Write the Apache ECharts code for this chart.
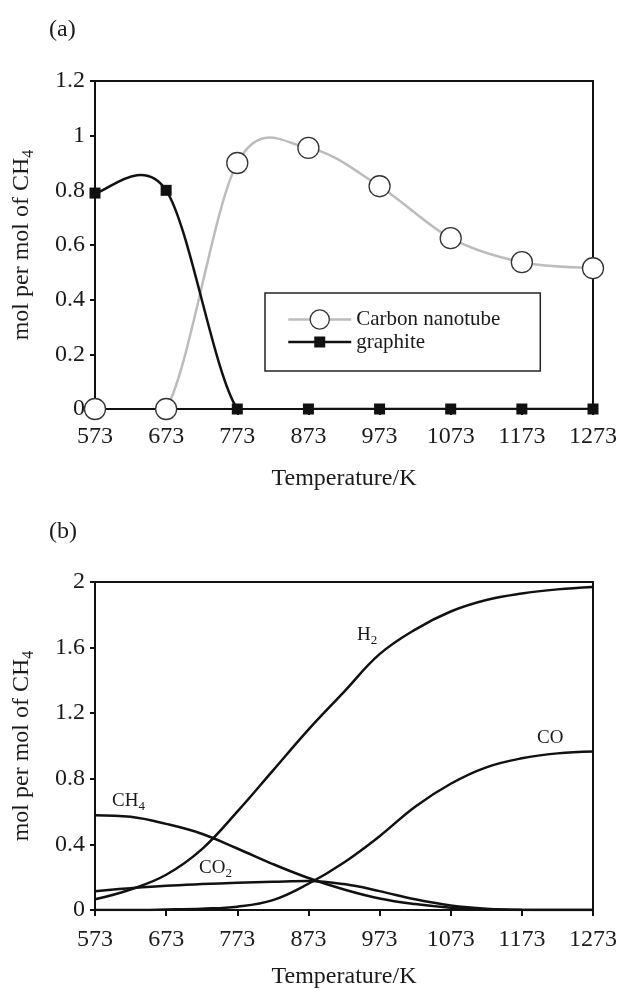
<!DOCTYPE html>
<html>
<head>
<meta charset="utf-8">
<script src="https://cdn.jsdelivr.net/npm/echarts@6/dist/echarts.min.js"></script>
<style>
html, body { margin: 0; padding: 0; background: #fff; }
#chart { width: 624px; height: 990px; }
</style>
</head>
<body>
<div id="chart"></div>
<script>
// (a) carbon deposit per mol of CH4
var temps = [573, 673, 773, 873, 973, 1073, 1173, 1273];
var nanotube = [0, 0, 0.9, 0.955, 0.815, 0.625, 0.537, 0.515];
var graphite = [0.79, 0.8, 0, 0, 0, 0, 0, 0];

// (b) gas products per mol of CH4
var tempsB = [573, 623, 673, 723, 773, 823, 873, 923, 973, 1023, 1073, 1123, 1173, 1223, 1273];
var h2 = [0.065, 0.125, 0.215, 0.37, 0.6, 0.85, 1.1, 1.33, 1.56, 1.71, 1.82, 1.89, 1.93, 1.955, 1.97];
var co = [0, 0, 0.003, 0.008, 0.02, 0.06, 0.16, 0.29, 0.45, 0.63, 0.77, 0.87, 0.925, 0.955, 0.967];
var ch4 = [0.578, 0.568, 0.525, 0.465, 0.375, 0.28, 0.195, 0.125, 0.07, 0.036, 0.014, 0.004, 0, 0, 0];
var co2 = [0.115, 0.133, 0.148, 0.158, 0.166, 0.172, 0.177, 0.158, 0.115, 0.065, 0.028, 0.008, 0.001, 0, 0];

var serif = '"Liberation Serif", "Times New Roman", serif';
var ink = '#1a1a1a';

var chart = echarts.init(document.getElementById('chart'));

function pairs(xs, ys) {
    return xs.map(function (x, i) { return [x, ys[i]]; });
}

// excel-like smoothed line through the points (curve may overshoot between points)
function spline(xs, ys, color, width) {
    return function (params, api) {
        if (params.dataIndex !== 0) return;
        var p = xs.map(function (x, i) { return api.coord([x, ys[i]]); });
        var segs = [];
        for (var i = 0; i < p.length - 1; i++) {
            var a = p[Math.max(i - 1, 0)], b = p[i], c = p[i + 1], d = p[Math.min(i + 2, p.length - 1)];
            segs.push({
                type: 'bezierCurve',
                shape: {
                    x1: b[0], y1: b[1], x2: c[0], y2: c[1],
                    cpx1: b[0] + (c[0] - a[0]) / 6, cpy1: b[1] + (c[1] - a[1]) / 6,
                    cpx2: c[0] - (d[0] - b[0]) / 6, cpy2: c[1] - (d[1] - b[1]) / 6
                },
                style: { stroke: color, lineWidth: width, fill: 'none' }
            });
        }
        return { type: 'group', children: segs };
    };
}

function xAxisOf(grid, margin, gap, z) {
    return {
        type: 'value', gridIndex: grid, min: 573, max: 1273, interval: 100, z: z,
        name: 'Temperature/K', nameLocation: 'middle', nameGap: gap,
        nameTextStyle: { fontFamily: serif, fontSize: 24, color: ink },
        axisLine: { lineStyle: { color: '#111', width: 2 } },
        axisTick: { show: true, length: 6, lineStyle: { color: '#111', width: 2 } },
        axisLabel: {
            fontFamily: serif, fontSize: 24, color: ink, margin: margin,
            formatter: function (v) { return String(v); }
        },
        splitLine: { show: false }
    };
}

function yAxisOf(grid, max, step) {
    return {
        type: 'value', gridIndex: grid, min: 0, max: max, interval: step,
        name: '{a|mol per mol of CH}{s|4}', nameLocation: 'middle', nameGap: 58,
        nameTextStyle: {
            fontFamily: serif, fontSize: 24, color: ink,
            rich: {
                a: { fontFamily: serif, fontSize: 24, color: ink },
                s: { fontFamily: serif, fontSize: 16, color: ink, padding: [14, 0, 0, 0] }
            }
        },
        axisLine: { lineStyle: { color: '#111', width: 2 } },
        axisTick: { show: true, length: 5, lineStyle: { color: '#111', width: 2 } },
        axisLabel: { fontFamily: serif, fontSize: 24, color: ink, margin: 10 },
        splitLine: { show: false }
    };
}

function gasLine(name, values) {
    return {
        name: name, type: 'line', xAxisIndex: 1, yAxisIndex: 1,
        data: pairs(tempsB, values), smooth: 0.4, symbol: 'none',
        lineStyle: { color: '#111', width: 2.5 }
    };
}

function note(left, top, main, sub, size) {
    return {
        type: 'text', left: left, top: top,
        style: {
            text: sub ? '{a|' + main + '}{s|' + sub + '}' : '{a|' + main + '}',
            rich: {
                a: { fontFamily: serif, fontSize: size, fill: ink },
                s: { fontFamily: serif, fontSize: Math.round(size * 0.68), fill: ink, padding: [Math.round(size * 0.6), 0, 0, 0] }
            }
        }
    };
}

chart.setOption({
    animation: false,
    backgroundColor: '#fff',
    grid: [
        { left: 95, right: 31, top: 81, height: 328, show: true, borderColor: '#111', borderWidth: 2 },
        { left: 95, right: 31, top: 582, height: 328, show: true, borderColor: '#111', borderWidth: 2 }
    ],
    xAxis: [xAxisOf(0, 16, 58, 3), xAxisOf(1, 18, 55, 0)],
    yAxis: [yAxisOf(0, 1.2, 0.2), yAxisOf(1, 2, 0.4)],
    legend: {
        left: 265, top: 293, orient: 'vertical',
        padding: [16, 40, 17, 22],
        itemWidth: 63, itemHeight: 24, itemGap: 0,
        borderColor: '#222', borderWidth: 1.5, backgroundColor: '#fff',
        textStyle: { fontFamily: serif, fontSize: 21, color: ink },
        selectedMode: false,
        data: [
            { name: 'Carbon nanotube', lineStyle: { opacity: 1, width: 2.5 }, itemStyle: { borderWidth: 1.3 } },
            { name: 'graphite', icon: 'path://M0 0M63 24M0 10.75H63V13.25H0ZM26 6.5H37V17.5H26Z', itemStyle: { borderWidth: 0 } }
        ]
    },
    graphic: [
        note(49, 18, '(a)', '', 24),
        note(49, 520, '(b)', '', 24),
        note(357, 626, 'H', '2', 19),
        note(537, 729, 'CO', '', 19),
        note(112, 792, 'CH', '4', 19),
        note(199, 859, 'CO', '2', 19)
    ],
    series: [
        {
            name: 'cntCurve', type: 'custom', xAxisIndex: 0, yAxisIndex: 0, z: 1, clip: true,
            data: pairs(temps, nanotube), encode: { x: 0, y: 1 },
            renderItem: spline(temps, nanotube, '#bcbcbc', 2.5)
        },
        {
            name: 'graphiteCurve', type: 'custom', xAxisIndex: 0, yAxisIndex: 0, z: 2, clip: true,
            data: pairs(temps, graphite), encode: { x: 0, y: 1 },
            renderItem: spline(temps, graphite, '#111', 2.5)
        },
        {
            name: 'Carbon nanotube', type: 'line', xAxisIndex: 0, yAxisIndex: 0, z: 5,
            data: pairs(temps, nanotube), symbol: 'circle', symbolSize: 21,
            itemStyle: { color: '#fff', borderColor: '#333', borderWidth: 1.3 },
            lineStyle: { color: '#bcbcbc', width: 2.5, opacity: 0 }
        },
        {
            name: 'graphite', type: 'line', xAxisIndex: 0, yAxisIndex: 0, z: 6,
            data: pairs(temps, graphite), symbol: 'rect', symbolSize: 11,
            itemStyle: { color: '#111' },
            lineStyle: { color: '#111', width: 2.5, opacity: 0 }
        },
        gasLine('H2', h2),
        gasLine('CO', co),
        gasLine('CH4', ch4),
        gasLine('CO2', co2)
    ]
});
</script>
</body>
</html>
